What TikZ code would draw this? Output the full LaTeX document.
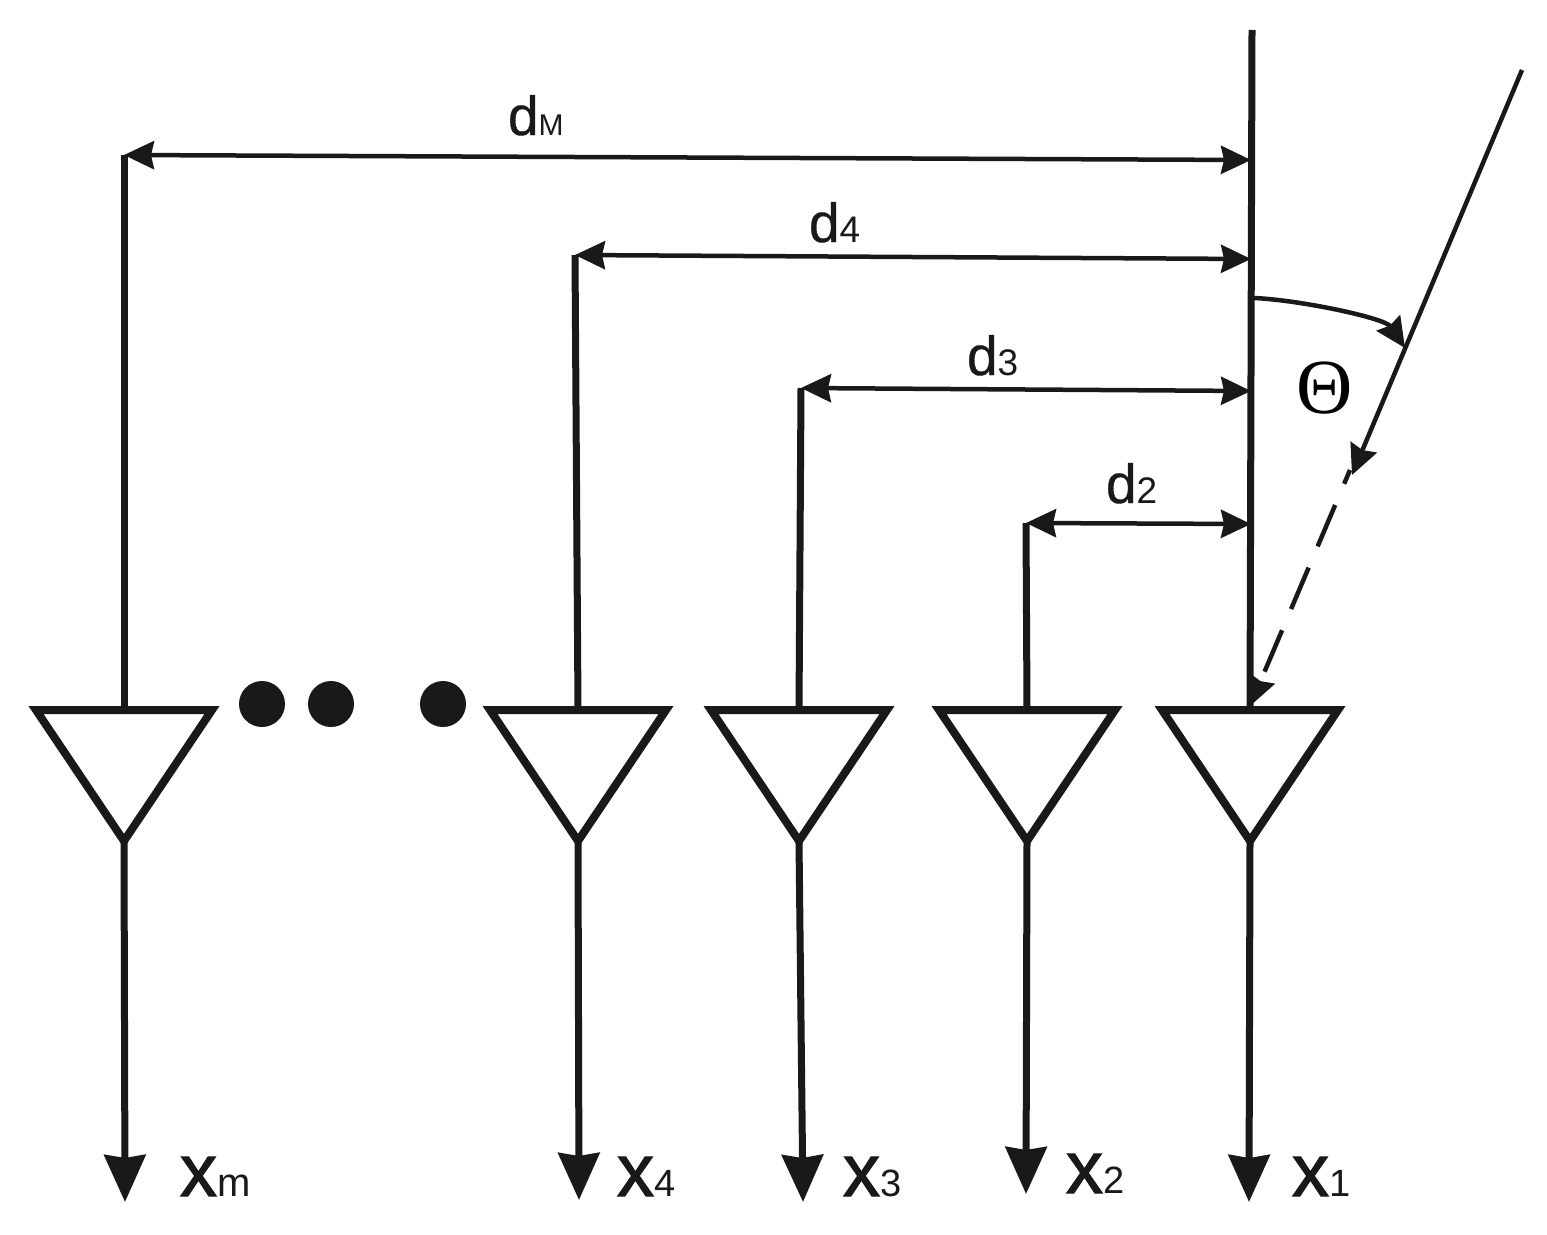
\documentclass[tikz,border=0pt]{standalone}
\usepackage{fontspec}
\setmainfont{Liberation Sans}
\newfontfamily\heavyfont[FakeBold=1.6]{Liberation Sans}
\newfontfamily\mediumfont[FakeBold=0.6]{Liberation Sans}
\newfontfamily\thetafont{Liberation Serif}
\usetikzlibrary{arrows.meta}
\colorlet{inkblack}{black!90}
\newcommand{\dlabel}[2]{{\mediumfont\fontsize{55}{55}\selectfont d}{\fontsize{#2}{#2}\selectfont #1}}
\newcommand{\xlabel}[2]{{\heavyfont\fontsize{74}{74}\selectfont x}{\fontsize{#2}{#2}\selectfont #1}}
\tikzset{
    antenna/.style={draw=inkblack,line width=8pt,miter limit=10,line join=miter},
    feed/.style={draw=inkblack,line width=7pt},
    output/.style={draw=inkblack,line width=7pt,-{Stealth[length=47pt,width=41pt,inset=3pt]}},
    dimline/.style={draw=inkblack,line width=4.5pt,{Stealth[length=30pt,width=28pt,inset=3pt]}-{Stealth[length=30pt,width=28pt,inset=3pt]}},
    ray/.style={draw=inkblack,line width=4.5pt},
    rayhead/.style={-{Stealth[length=30pt,width=28pt,inset=3pt]}},
    lbl/.style={inner sep=0pt,outer sep=0pt,anchor=base west,text=inkblack},
    blob/.style={circle,fill=inkblack,minimum size=46pt,inner sep=0pt},
}
\begin{document}
\begin{tikzpicture}[x=1pt,y=-1pt]
\useasboundingbox (0,0) rectangle (1547,1234);
% array axis and incoming ray
\coordinate (rayfar) at (1522,70);
\coordinate (raymid) at (1352,475);
\coordinate (raydash) at (1350,470);
\coordinate (rayend) at (1250,706);
\coordinate (arcstart) at (1254,298);
\coordinate (arcend) at (1405,348);
% antennas: name, centre, stem top, output end
\foreach \a/\cx/\sx/\sy/\ox/\oy in {m/124/124/155/125/1202, 4/578/575/255/579/1200, 3/799/801/388/803/1202, 2/1027/1026/523/1026/1194, 1/1250/1252/30/1249/1202} {
    \coordinate (l\a) at (\cx-88,710);
    \coordinate (r\a) at (\cx+88,710);
    \coordinate (t\a) at (\cx,710);
    \coordinate (p\a) at (\cx,841);
    \coordinate (s\a) at (\sx,\sy);
    \coordinate (o\a) at (\ox,\oy);
    \draw[antenna] (l\a) -- (r\a) -- (p\a) -- cycle;
    \draw[output] (p\a) -- (o\a);
    \draw[feed] (s\a) -- (t\a);
}
% spacings
\coordinate (em) at (1251,160);
\coordinate (e4) at (1251,259);
\coordinate (e3) at (1251,391);
\coordinate (e2) at (1251,524);
\foreach \a in {m,4,3,2} {
    \draw[dimline] (s\a) -- (e\a);
}
\draw[ray,rayhead] (rayfar) -- (raymid);
\draw[ray,rayhead,dash pattern=on 45pt off 23pt,dash phase=30pt] (raydash) -- (rayend);
\draw[ray,rayhead] (arcstart) .. controls (1300,300) and (1385,318) .. (arcend);
% dots
\node[blob] (dota) at (262,704) {};
\node[blob] (dotb) at (331,704) {};
\node[blob] (dotc) at (443,704) {};
% labels
\node[lbl] (dm) at (508,135) {\dlabel{M}{30}};
\node[lbl] (d4) at (809,242) {\dlabel{4}{37}};
\node[lbl] (d3) at (967,375) {\dlabel{3}{37}};
\node[lbl] (d2) at (1106,503) {\dlabel{2}{37}};
\node[lbl] (xm) at (180,1196) {\xlabel{m}{40}};
\node[lbl] (x4) at (617,1196) {\xlabel{4}{38}};
\node[lbl] (x3) at (843,1196) {\xlabel{3}{38}};
\node[lbl] (x2) at (1066,1193) {\xlabel{2}{38}};
\node[lbl] (x1) at (1292,1196) {\xlabel{1}{38}};
\node[text=black,inner sep=0pt] (theta) at (1325,388) {\thetafont\fontsize{78}{78}\selectfont Θ};
\end{tikzpicture}
\end{document}
